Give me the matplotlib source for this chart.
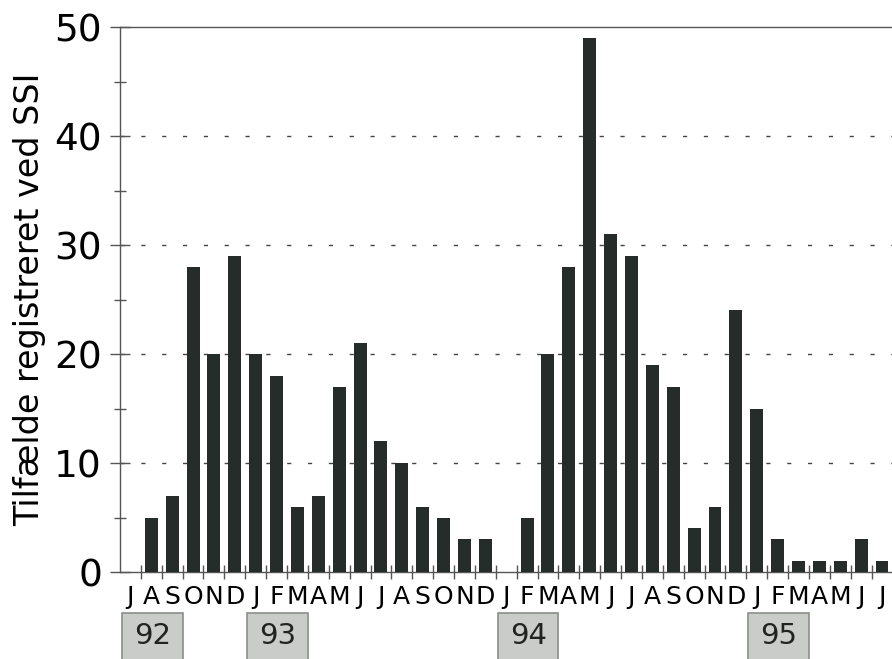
import matplotlib
matplotlib.use("Agg")
import matplotlib.pyplot as plt
from matplotlib.patches import Rectangle
import matplotlib.transforms as mtransforms

# Data: monthly cases July 1992 - July 1995
months = list("JASOND") + list("JFMAMJJASOND") + list("JFMAMJJASOND") + list("JFMAMJJ")
cases = [0, 5, 7, 28, 20, 29,
         20, 18, 6, 7, 17, 21, 12, 10, 6, 5, 3, 3,
         0, 5, 20, 28, 49, 31, 29, 19, 17, 4, 6, 24,
         15, 3, 1, 1, 1, 3, 1]
years = ["92", "93", "94", "95"]
year_start_index = [0, 6, 18, 30]
yticks = [0, 10, 20, 30, 40, 50]
ylabel = "Tilfælde registreret ved SSI"

plt.rcParams['font.family'] = ['DejaVu Sans']
fig = plt.figure(figsize=(8.92, 6.59), dpi=100)
ax = fig.add_axes([0.1345, 0.132, 0.866, 0.827])

x = list(range(len(cases)))
ax.bar(x, cases, width=0.62, color="#262c29", zorder=3)

ax.set_xlim(-0.5, len(cases) - 0.5)
ax.set_ylim(0, 50)

for y in yticks[1:-1]:
    ax.axhline(y, color="#444444", lw=1.0, ls=(0, (3, 12)), zorder=1)

ax.set_yticks(yticks)
ax.set_yticks([5, 15, 25, 35, 45], minor=True)
ax.tick_params(axis='y', which='major', direction='inout', length=14, width=1,
               labelsize=27, pad=6, color="#555555")
ax.tick_params(axis='y', which='minor', direction='inout', length=8, width=1, color="#555555")

# x ticks at boundaries, labels at centres
ax.set_xticks([i + 0.5 for i in range(len(cases) - 1)])
ax.set_xticklabels([])
ax.set_xticks(x, minor=True)
ax.set_xticklabels(months, minor=True)
ax.tick_params(axis='x', which='major', direction='inout', length=10, width=1, color="#555555")
ax.tick_params(axis='x', which='minor', length=0, labelsize=18, pad=9)

ax.spines['right'].set_visible(False)
for s in ['left', 'bottom', 'top']:
    ax.spines[s].set_color("#555555")
    ax.spines[s].set_linewidth(1)

ax.set_ylabel(ylabel, fontsize=24)
ax.yaxis.label.set_va('center')
ax.yaxis.set_label_coords(-0.117, 0.5)

trans = mtransforms.blended_transform_factory(ax.transData, ax.transAxes)
for yr, si in zip(years, year_start_index):
    left = si - 0.4
    w = 2.9
    rect = Rectangle((left, -0.165), w, 0.09, transform=trans, clip_on=False,
                     facecolor="#c9ccc9", edgecolor="#8a8f8a", lw=1.2)
    ax.add_patch(rect)
    ax.text(left + w / 2, -0.118, yr, transform=trans, ha='center', va='center',
            fontsize=21, color="#222222")

fig.savefig("out.png", dpi=100)
